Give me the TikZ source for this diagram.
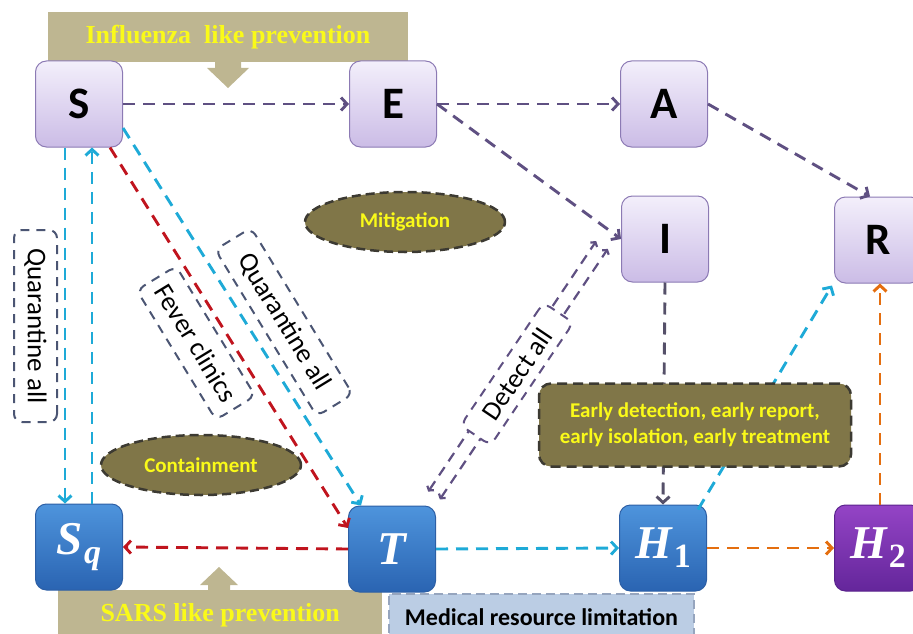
\documentclass[tikz,border=0pt]{standalone}
\usepackage{fontspec}
\setmainfont{Carlito}
\newfontfamily\tnr{Liberation Serif}
\usetikzlibrary{arrows.meta,shapes.geometric,calc}
\definecolor{ptop}{RGB}{243,239,251}
\definecolor{pbot}{RGB}{203,188,230}
\definecolor{pline}{RGB}{140,122,180}
\definecolor{btop}{RGB}{78,148,220}
\definecolor{bbot}{RGB}{42,100,178}
\definecolor{bline}{RGB}{45,95,165}
\definecolor{vtop}{RGB}{148,68,198}
\definecolor{vbot}{RGB}{100,38,155}
\definecolor{vline}{RGB}{90,35,140}
\definecolor{arrP}{RGB}{95,80,130}
\definecolor{arrC}{RGB}{30,170,215}
\definecolor{arrR}{RGB}{192,20,30}
\definecolor{arrO}{RGB}{228,110,15}
\definecolor{arrG}{RGB}{85,80,105}
\definecolor{tanc}{RGB}{190,182,145}
\definecolor{oliv}{RGB}{128,118,72}
\definecolor{dashdark}{RGB}{60,58,50}
\definecolor{ytxt}{RGB}{250,250,25}
\definecolor{lblc}{RGB}{75,85,115}
\definecolor{medfill}{RGB}{187,205,228}
\definecolor{medline}{RGB}{150,165,190}
\newcommand{\subtxt}[1]{\raisebox{-9pt}{\fontsize{34}{34}\selectfont #1}}
\tikzset{
  boxbase/.style={rounded corners=11pt, minimum width=87pt, minimum height=86pt, line width=1pt, inner sep=0pt},
  pbox/.style={boxbase, draw=pline, top color=ptop, bottom color=pbot, font=\fontsize{45}{45}\selectfont\bfseries},
  bbox/.style={boxbase, draw=bline, top color=btop, bottom color=bbot, text=white, font=\tnr\bfseries\itshape\fontsize{47}{47}\selectfont},
  vbox/.style={boxbase, draw=vline, top color=vtop, bottom color=vbot, text=white, font=\tnr\bfseries\itshape\fontsize{47}{47}\selectfont},
  conn/.style={line width=2.9pt, dash pattern=on 12pt off 8pt, -{Straight Barb[length=6pt,width=13pt]}},
  cP/.style={conn, draw=arrP},
  cC/.style={conn, draw=arrC},
  cR/.style={conn, draw=arrR},
  cO/.style={conn, draw=arrO},
  cG/.style={conn, draw=arrG},
  detectline/.style={draw=arrP, line width=2.2pt, dash pattern=on 10pt off 7pt, {Straight Barb[length=3pt,width=8pt]}-{Straight Barb[length=3pt,width=8pt]}},
  banner/.style={fill=tanc, inner sep=0pt, text=ytxt, font=\tnr\bfseries\fontsize{26}{26}\selectfont},
  oval/.style={ellipse, minimum width=200pt, minimum height=60pt, inner sep=0pt, fill=oliv, draw=dashdark, line width=2.5pt, dash pattern=on 9pt off 5pt, text=ytxt, font=\bfseries\fontsize{21}{21}\selectfont},
  earlybox/.style={rounded corners=12pt, minimum width=312pt, minimum height=83pt, inner sep=0pt, fill=oliv, draw=dashdark, line width=2.5pt, dash pattern=on 10pt off 6pt, text=ytxt, align=center, font=\bfseries\fontsize{21}{26}\selectfont},
  medbox/.style={minimum width=305pt, minimum height=46pt, inner sep=0pt, fill=medfill, draw=medline, line width=2pt, dash pattern=on 9pt off 5pt, font=\bfseries\fontsize{24}{24}\selectfont},
  lbl/.style={draw=lblc, rounded corners=8pt, line width=2pt, dash pattern=on 9pt off 7pt, inner sep=0pt, font=\fontsize{27}{27}\selectfont}
}
\begin{document}
\begin{tikzpicture}[x=1pt,y=-1pt]
\useasboundingbox (0,0) rectangle (913,634);
% banners
\node[banner, minimum width=360pt, minimum height=50pt] (flu) at (228,37) {Influenza\ \ like prevention};
\fill[tanc] (215,61) -- (241,61) -- (241,68) -- (249,68) -- (228,88) -- (207,68) -- (215,68) -- cycle;
\node[banner, minimum width=324pt, minimum height=50pt, anchor=north west] (sars) at (58,590) {SARS like prevention};
\fill[tanc] (208,591) -- (208,585) -- (200,585) -- (219,567) -- (238,585) -- (230,585) -- (230,591) -- cycle;
% compartments
\node[pbox] (S) at (79,104) {S};
\node[pbox] (E) at (393,104) {E};
\node[pbox] (A) at (664,104) {A};
\node[pbox] (I) at (665,239) {I};
\node[pbox] (R) at (878,240) {R};
\node[bbox] (Sq) at (79,547) {S\kern1pt\subtxt{q}};
\node[bbox] (T) at (392,549) {T};
\node[bbox] (H1) at (663,548) {H\kern2pt\subtxt{\upshape 1}};
\node[vbox] (H2) at (878,548) {H\kern2pt\subtxt{\upshape 2}};
% ovals
\node[oval] (mit) at (405,222) {Mitigation};
\node[oval] (con) at (201,465) {Containment};
% labels
\node[lbl, rotate=-90, minimum width=192pt, minimum height=43pt] (qa1) at (35.5,326) {Quarantine all};
\node[lbl, rotate=-58.6, minimum width=152pt, minimum height=46pt] (fc) at (196,343) {Fever clinics};
\node[lbl, rotate=-58.6, minimum width=195pt, minimum height=42pt] (qa2) at (284,322) {Quarantine all};
% connectors
\draw[cP] (S.east) -- (E.west);
\draw[cP] (E.east) -- (A.west);
\draw[cP] (E.east) -- (I.west);
\draw[cP] (A.east) -- ([xshift=-8pt]R.north);
\draw[cG] (I.south) -- (H1.north);
\draw[cC] ([xshift=-14pt]S.south) -- ([xshift=-14pt]Sq.north);
\draw[cC] ([xshift=13pt]Sq.north) -- ([xshift=13pt]S.south);
\draw[cR] ([xshift=31pt]S.south) -- ([yshift=21pt]T.west);
\draw[cC] ([yshift=-24pt]S.east) -- ([xshift=-31pt]T.north);
\draw[cR] (T.west) -- (Sq.east);
\draw[cC] (T.east) -- (H1.west);
\draw[cO] (H1.east) -- (H2.west);
\draw[cO] ([xshift=2pt]H2.north) -- ([xshift=2pt]R.south);
\draw[cC] ([xshift=-9pt,yshift=-5pt]H1.north east) -- ([xshift=-2pt,yshift=-2pt]R.south west);
% detect all double connector T <-> I
\coordinate (dT) at ([xshift=-2pt,yshift=10pt]T.north east);
\coordinate (dI) at ([xshift=-19pt,yshift=-6pt]I.west);
\draw[detectline] ($(dT)!7pt!90:(dI)$) -- ($(dI)!7pt!-90:(dT)$);
\draw[detectline] ($(dT)!7pt!-90:(dI)$) -- ($(dI)!7pt!90:(dT)$);
\node[lbl, draw=arrP, fill=white, rotate=56, minimum width=148pt, minimum height=36pt] (da) at (517,374) {Detect all};
% boxes on top
\node[earlybox] (early) at (695,425) {Early detection, early report,\\early isolation, early treatment};
\node[medbox, anchor=north west] (med) at (388,593) {Medical resource limitation};
\end{tikzpicture}
\end{document}
